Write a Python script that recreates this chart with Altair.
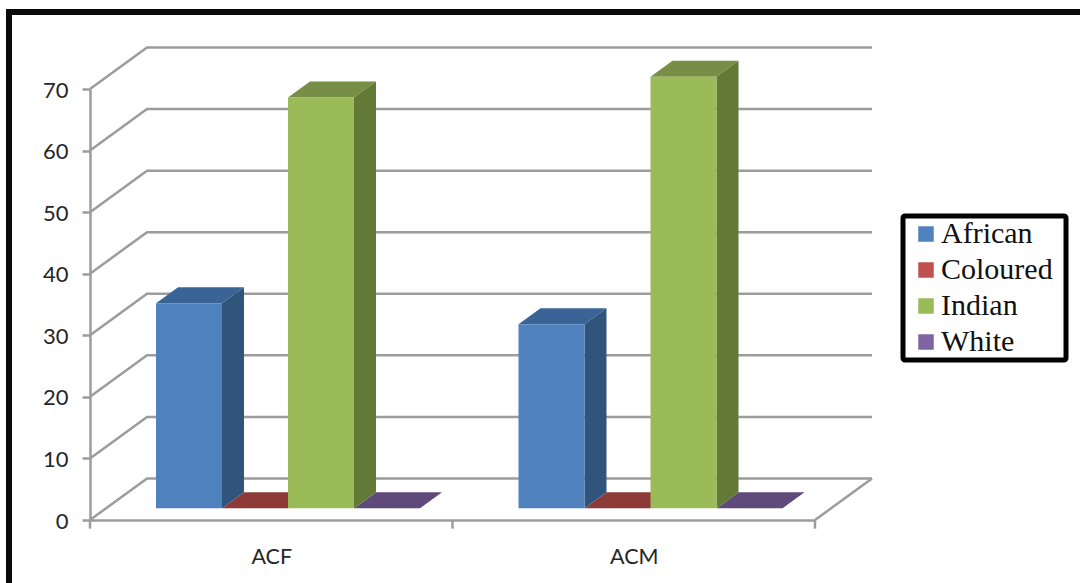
import altair as alt
import pandas as pd

# Survey values by group
categories = ["ACF", "ACM"]
series = ["African", "Coloured", "Indian", "White"]
values = {
    "African": [33.3, 29.9],
    "Coloured": [0, 0],
    "Indian": [66.7, 70.1],
    "White": [0, 0],
}
y_ticks = [0, 10, 20, 30, 40, 50, 60, 70]

front_colors = ["#4F81BD", "#C0504D", "#9BBB59", "#8064A2"]
side_colors = ["#30547C", "#7F3432", "#637A36", "#523F6C"]
top_colors = ["#3A6496", "#8E3A38", "#768E45", "#604A7B"]
grid_color = "#9C9C9C"
text_color = "#262626"

# Plot geometry: one category spans 362.5 px, one value unit 6.157 px
WIDTH, HEIGHT = 725, 431
LEFT, TOP = 90, 89
PX_PER_CAT = WIDTH / 2
PX_PER_VALUE = HEIGHT / 70
# Oblique depth of the floor and of each bar, in scale units
DEPTH_X = 57 / PX_PER_CAT
DEPTH_Y = 41.5 / PX_PER_VALUE
BAR_DX = 22 / PX_PER_CAT
BAR_DY = 16 / PX_PER_VALUE
BAR_BASE = 11.7 / PX_PER_VALUE
BAR_START = 66 / PX_PER_CAT
BAR_W = 66 / PX_PER_CAT

x_scale = alt.Scale(domain=[0, 2], nice=False, zero=False)
y_scale = alt.Scale(domain=[0, 70], nice=False, zero=False)
X = alt.X("x:Q", scale=x_scale, title=None)
Y = alt.Y("y:Q", scale=y_scale, title=None)

# Gridlines run along the side wall and then across the back wall
grid_rows = []
for v in y_ticks:
    grid_rows += [
        {"line": f"g{v}", "o": 0, "x": 0, "y": v},
        {"line": f"g{v}", "o": 1, "x": DEPTH_X, "y": v + DEPTH_Y},
        {"line": f"g{v}", "o": 2, "x": 2 + DEPTH_X, "y": v + DEPTH_Y},
    ]
grid_rows += [
    {"line": "floor", "o": 0, "x": 2, "y": 0},
    {"line": "floor", "o": 1, "x": 2 + DEPTH_X, "y": DEPTH_Y},
]
grid = alt.Chart(pd.DataFrame(grid_rows)).mark_line(
    color=grid_color, strokeWidth=2.5, clip=False
).encode(
    x=alt.X("x:Q", scale=x_scale, title=None,
            axis=alt.Axis(values=[0.5, 1.5],
                          labelExpr="datum.value < 1 ? 'ACF' : 'ACM'",
                          ticks=False, grid=False, domainColor=grid_color,
                          domainWidth=2.5, labelFont="Lato", labelFontSize=21.5,
                          labelColor=text_color, labelPadding=26, labelFlush=False)),
    y=alt.Y("y:Q", scale=y_scale, title=None,
            axis=alt.Axis(values=y_ticks, grid=False, domainColor=grid_color,
                          domainWidth=2.5, tickColor=grid_color, tickWidth=2.5,
                          tickSize=8, labelFont="Lato", labelFontSize=22,
                          labelColor=text_color, labelPadding=14, labelOffset=1)),
    detail="line:N",
    order="o:Q",
)

# Category separators below the floor edge
cat_tick_rows = [{"x": i, "y": 0, "y2": -1.4} for i in range(3)]
cat_ticks = alt.Chart(pd.DataFrame(cat_tick_rows)).mark_rule(
    color=grid_color, strokeWidth=2.5, clip=False
).encode(x=X, y=Y, y2="y2:Q")

# Front, side and top faces of each bar, projected obliquely
front_rows, side_rows, top_rows = [], [], []
for c, cat in enumerate(categories):
    for s, name in enumerate(series):
        v = values[name][c]
        x0 = c + BAR_START + s * BAR_W
        x1 = x0 + BAR_W
        base = BAR_BASE
        front_rows.append({"series": name, "x": x0, "x2": x1, "y": base, "y2": base + v})
        key = f"{cat}-{name}"
        side_rows += [
            {"face": key, "shade": side_colors[s], "x": x1, "y": base, "y2": base + v},
            {"face": key, "shade": side_colors[s], "x": x1 + BAR_DX, "y": base + BAR_DY, "y2": base + v + BAR_DY},
        ]
        top_rows += [
            {"face": key, "shade": top_colors[s], "x": x0, "y": base + v, "y2": base + v},
            {"face": key, "shade": top_colors[s], "x": x0 + BAR_DX, "y": base + v, "y2": base + v + BAR_DY},
            {"face": key, "shade": top_colors[s], "x": x1, "y": base + v, "y2": base + v + BAR_DY},
            {"face": key, "shade": top_colors[s], "x": x1 + BAR_DX, "y": base + v + BAR_DY, "y2": base + v + BAR_DY},
        ]

tops = alt.Chart(pd.DataFrame(top_rows)).mark_area(orient="vertical", clip=False).encode(
    x=X, y=Y, y2="y2:Q", detail="face:N",
    color=alt.Color("shade:N", scale=None, legend=None),
)
sides = alt.Chart(pd.DataFrame(side_rows)).mark_area(orient="vertical", clip=False).encode(
    x=X, y=Y, y2="y2:Q", detail="face:N",
    color=alt.Color("shade:N", scale=None, legend=None),
)
fronts = alt.Chart(pd.DataFrame(front_rows)).mark_rect(clip=False).encode(
    x=X, x2="x2:Q", y=Y, y2="y2:Q",
    color=alt.Color(
        "series:N",
        scale=alt.Scale(domain=series, range=front_colors),
        legend=alt.Legend(
            title=" ", titleOrient="right", titlePadding=10, titleFontSize=2,
            orient="none", legendX=813, legendY=127,
            symbolType="square", symbolSize=240, symbolStrokeWidth=0,
            labelFont="Liberation Serif", labelFontSize=30, labelColor="#111111",
            strokeColor="black", padding=3, rowPadding=6,
            labelOffset=0, cornerRadius=2, fillColor="white",
            symbolOffset=5,
        ),
    ),
)

# Heavy frame along the top and left of the figure
frame_top = alt.Chart(pd.DataFrame({"k": [0]})).mark_rule(color="#0A0A0A", strokeWidth=6, clip=False).encode(
    x=alt.value(6 - LEFT), x2=alt.value(1080 - LEFT), y=alt.value(12 - TOP)
)
frame_left = alt.Chart(pd.DataFrame({"k": [0]})).mark_rule(color="#0A0A0A", strokeWidth=6, clip=False).encode(
    x=alt.value(9 - LEFT), y=alt.value(9 - TOP), y2=alt.value(583 - TOP)
)

chart = alt.layer(frame_top, frame_left, grid, cat_ticks, tops, sides, fronts).resolve_scale(
    color="independent"
).properties(
    width=WIDTH,
    height=HEIGHT,
    autosize=alt.AutoSizeParams(type="none"),
    padding={"left": LEFT, "top": TOP, "right": 1080 - LEFT - WIDTH, "bottom": 583 - TOP - HEIGHT},
    background="white",
).configure_view(stroke=None).configure_legend(strokeWidth=5)

chart.save("out.html", embed_options={"renderer": "svg", "actions": False})
